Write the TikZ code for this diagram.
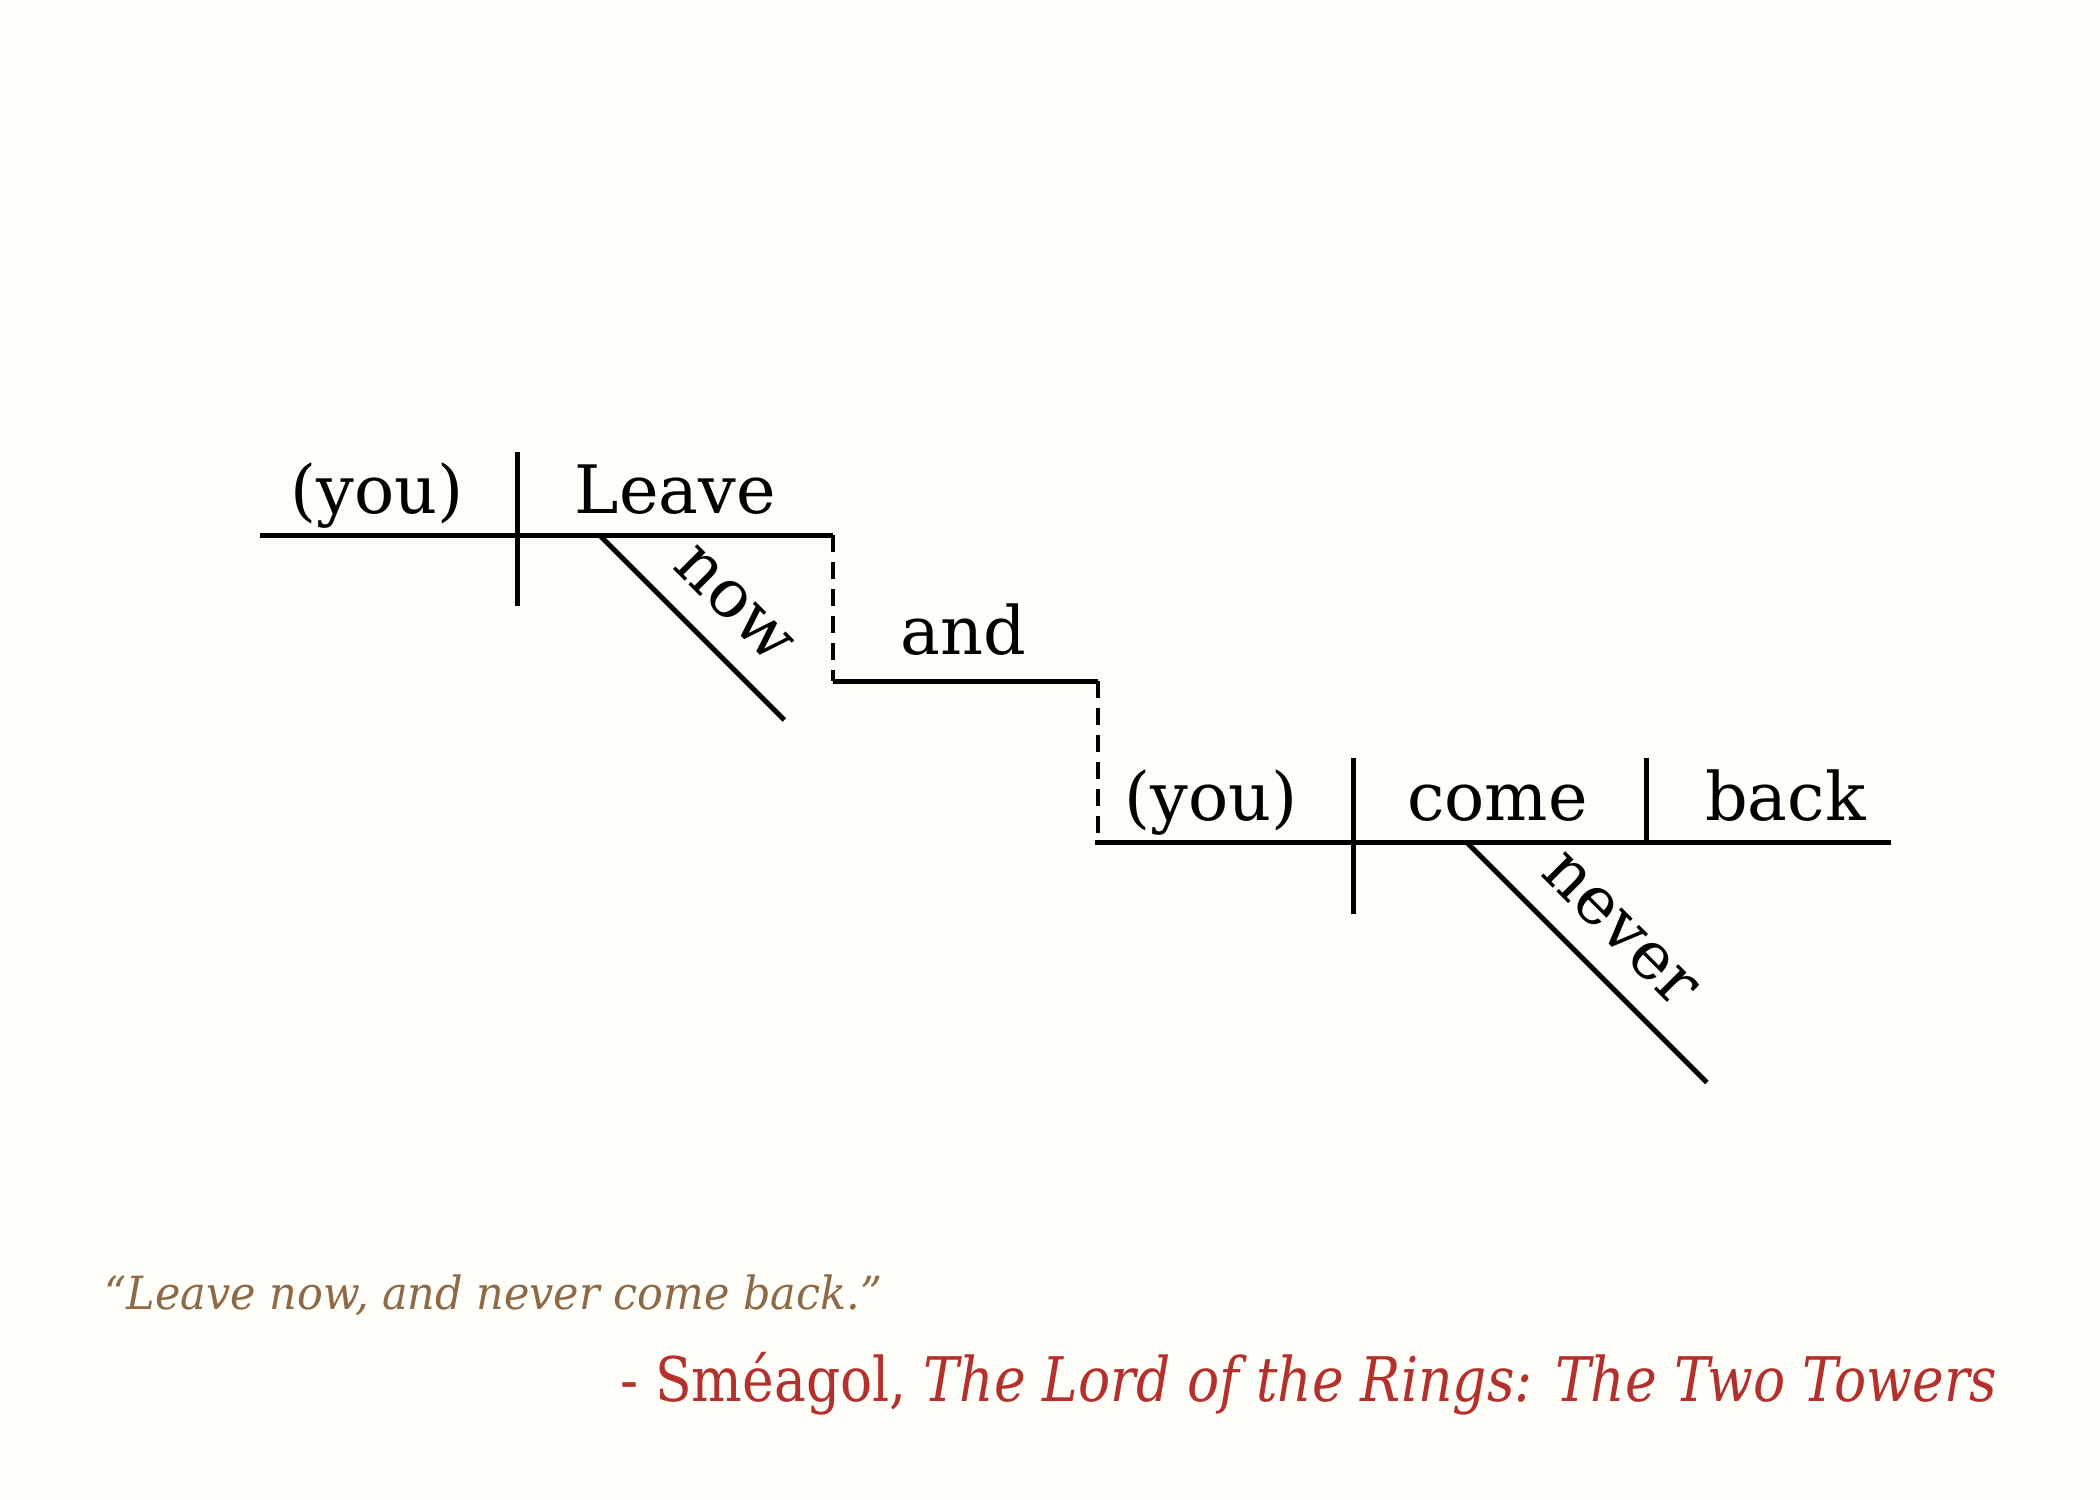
\documentclass[tikz,border=0pt]{standalone}
\usepackage{fontspec}
\setmainfont{DejaVu Serif}
\newfontfamily\condfont{DejaVu Serif}[FakeStretch=0.87]
\newfontfamily\quotefont{DejaVu Serif}[FakeStretch=0.94]
\definecolor{bgcol}{HTML}{FFFDF7}
\definecolor{quotecol}{HTML}{8C6A48}
\definecolor{attcol}{HTML}{B3302C}
\tikzset{
  diagline/.style={line width=1.4pt, line cap=butt},
  dashline/.style={line width=1.2pt, dash pattern=on 0.17cm off 0.1cm},
  word/.style={font=\fontsize{19}{23}\selectfont, inner sep=0pt, anchor=base},
  slantword/.style={font=\fontsize{19}{23}\selectfont, inner sep=0pt, sloped, anchor=south, yshift=0.25cm}
}
\begin{document}
\begin{tikzpicture}
\fill[bgcol] (0,0) rectangle (21,15);
\useasboundingbox (0,0) rectangle (21,15);
\begin{scope}[shift={(0,0.105)}, scale=0.993]
% coordinates
\coordinate (L1a) at (2.62,9.61);
\coordinate (L1b) at (8.39,9.61);
\coordinate (D1t) at (5.21,10.45);
\coordinate (D1b) at (5.21,8.90);
\coordinate (N1a) at (6.04,9.61);
\coordinate (N1b) at (7.90,7.75);
\coordinate (A1) at (8.39,8.14);
\coordinate (A2) at (11.06,8.14);
\coordinate (A3) at (11.06,6.52);
\coordinate (L2a) at (11.03,6.52);
\coordinate (L2b) at (19.04,6.52);
\coordinate (D2t) at (13.63,7.37);
\coordinate (D2b) at (13.63,5.80);
\coordinate (D3t) at (16.58,7.37);
\coordinate (D3b) at (16.58,6.52);
\coordinate (N2a) at (14.77,6.52);
\coordinate (N2b) at (17.19,4.10);
% lines
\draw[diagline] (L1a) -- (L1b);
\draw[diagline] (D1t) -- (D1b);
\draw[diagline] (N1a) -- (N1b) node[slantword, pos=0.55] (now) {now};
\draw[dashline] (L1b) -- (A1);
\draw[diagline] (A1) -- (A2);
\draw[dashline] (A2) -- (A3);
\draw[diagline] (L2a) -- (L2b);
\draw[diagline] (D2t) -- (D2b);
\draw[diagline] (D3t) -- (D3b);
\draw[diagline] (N2a) -- (N2b) node[slantword, pos=0.50] (never) {never};
% words
\node[word] (you1) at (3.80,9.83) {(you)};
\node[word] (leave) at (6.80,9.83) {Leave};
\node[word] (and) at (9.70,8.41) {and};
\node[word] (you2) at (12.20,6.74) {(you)};
\node[word] (come) at (15.08,6.74) {come};
\node[word] (back) at (17.98,6.74) {back};
% quote
\node[anchor=base west, text=quotecol, font=\quotefont\itshape\fontsize{13}{15}\selectfont, inner sep=0pt] (quote) at (1.05,1.81) {“Leave now, and never come back.”};
\node[anchor=base east, text=attcol, font=\condfont\fontsize{17.5}{21}\selectfont, inner sep=0pt] (attr) at (20.12,0.89) {- Sméagol, \textit{The Lord of the Rings: The Two Towers}};
\end{scope}
\end{tikzpicture}
\end{document}
